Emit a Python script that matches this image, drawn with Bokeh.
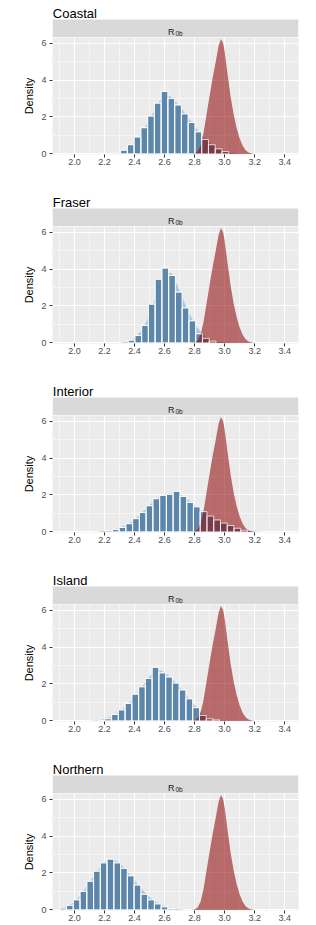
from bokeh.plotting import figure
from bokeh.layouts import column
from bokeh.models import Range1d, FixedTicker, NumeralTickFormatter
from bokeh.core.properties import value
from bokeh.embed import file_html
from bokeh.resources import INLINE

# ---------------- data ----------------
panel_titles = ["Coastal", "Fraser", "Interior", "Island", "Northern"]
strip_main = "R"
strip_sub = "0b"
y_axis_title = "Density"
BINWIDTH = 0.045

x_ticks = [2.0, 2.2, 2.4, 2.6, 2.8, 3.0, 3.2, 3.4]
x_minor = [1.9, 2.1, 2.3, 2.5, 2.7, 2.9, 3.1, 3.3, 3.5]
y_ticks = [0, 2, 4, 6]
y_minor = [1, 3, 5]

# red density curve (same in all panels)
red_x = [2.78, 2.80, 2.82, 2.84, 2.86, 2.88, 2.90, 2.92, 2.94, 2.96, 2.975, 2.99,
         3.00, 3.02, 3.04, 3.06, 3.08, 3.10, 3.12, 3.14, 3.16, 3.18, 3.20]
red_y = [0.0, 0.03, 0.13, 0.45, 1.15, 2.15, 3.15, 4.1, 4.95, 5.85, 6.22, 6.0,
         5.55, 4.3, 3.1, 2.15, 1.4, 0.85, 0.45, 0.2, 0.08, 0.02, 0.0]

coastal_centers = [2.285, 2.33, 2.375, 2.42, 2.465, 2.51, 2.555, 2.60, 2.645, 2.69,
                   2.735, 2.78, 2.825, 2.87, 2.915, 2.96, 3.005]
coastal_heights = [0.04, 0.2, 0.5, 0.92, 1.42, 2.05, 2.75, 3.38, 3.0, 2.65,
                   2.17, 1.7, 1.2, 0.78, 0.5, 0.28, 0.13]
coastal_dens_x = [2.25, 2.30, 2.35, 2.40, 2.45, 2.50, 2.55, 2.60, 2.65, 2.70, 2.75,
                  2.80, 2.85, 2.90, 2.95, 3.00, 3.05, 3.10]
coastal_dens_y = [0.0, 0.05, 0.25, 0.6, 1.15, 1.85, 2.65, 3.3, 3.05, 2.6, 2.05,
                  1.5, 1.0, 0.6, 0.32, 0.15, 0.05, 0.0]

fraser_centers = [2.38, 2.425, 2.47, 2.515, 2.56, 2.605, 2.65, 2.695, 2.74, 2.785,
                  2.83, 2.875, 2.92]
fraser_heights = [0.15, 0.4, 0.95, 2.1, 3.45, 4.05, 3.65, 2.75, 1.9, 1.2,
                  0.5, 0.25, 0.1]
fraser_dens_x = [2.30, 2.35, 2.40, 2.45, 2.50, 2.55, 2.60, 2.65, 2.70, 2.75, 2.80,
                 2.85, 2.90, 2.95, 3.00, 3.05]
fraser_dens_y = [0.0, 0.05, 0.25, 0.7, 1.5, 2.8, 3.9, 3.75, 2.85, 1.85, 1.05,
                 0.5, 0.2, 0.07, 0.02, 0.0]

interior_centers = [2.23, 2.275, 2.32, 2.365, 2.41, 2.455, 2.50, 2.545, 2.59, 2.635,
                    2.68, 2.725, 2.77, 2.815, 2.86, 2.905, 2.95, 2.995, 3.04, 3.085, 3.13]
interior_heights = [0.08, 0.13, 0.24, 0.45, 0.72, 1.05, 1.42, 1.8, 1.98, 2.03,
                    2.2, 1.92, 1.6, 1.36, 1.1, 0.86, 0.65, 0.48, 0.35, 0.2, 0.09]
interior_dens_x = [2.15, 2.20, 2.25, 2.30, 2.35, 2.40, 2.45, 2.50, 2.55, 2.60, 2.65,
                   2.70, 2.75, 2.80, 2.85, 2.90, 2.95, 3.00, 3.05, 3.10, 3.15, 3.20, 3.25]
interior_dens_y = [0.0, 0.05, 0.12, 0.22, 0.4, 0.68, 1.05, 1.45, 1.82, 2.02, 2.1,
                   2.05, 1.8, 1.45, 1.15, 0.88, 0.65, 0.47, 0.32, 0.18, 0.08, 0.02, 0.0]

island_centers = [2.18, 2.225, 2.27, 2.315, 2.36, 2.405, 2.45, 2.495, 2.54, 2.585,
                  2.63, 2.675, 2.72, 2.765, 2.81, 2.855, 2.90, 2.945]
island_heights = [0.03, 0.12, 0.35, 0.6, 0.95, 1.45, 1.85, 2.3, 2.9, 2.6,
                  2.38, 2.05, 1.68, 1.2, 0.72, 0.3, 0.12, 0.06]
island_dens_x = [2.10, 2.15, 2.20, 2.25, 2.30, 2.35, 2.40, 2.45, 2.50, 2.55, 2.60,
                 2.65, 2.70, 2.75, 2.80, 2.85, 2.90, 2.95, 3.00]
island_dens_y = [0.0, 0.03, 0.1, 0.25, 0.5, 0.85, 1.3, 1.85, 2.4, 2.8, 2.65,
                 2.3, 1.85, 1.35, 0.85, 0.42, 0.15, 0.05, 0.0]

northern_centers = [1.88, 1.925, 1.97, 2.015, 2.06, 2.105, 2.15, 2.195, 2.24, 2.285,
                    2.33, 2.375, 2.42, 2.465, 2.51, 2.555, 2.60, 2.645]
northern_heights = [0.03, 0.1, 0.25, 0.55, 1.0, 1.55, 2.1, 2.55, 2.75, 2.55,
                    2.25, 1.85, 1.35, 0.85, 0.55, 0.33, 0.17, 0.08]
northern_dens_x = [1.85, 1.90, 1.95, 2.00, 2.05, 2.10, 2.15, 2.20, 2.25, 2.30, 2.35,
                   2.40, 2.45, 2.50, 2.55, 2.60, 2.65, 2.70, 2.75]
northern_dens_y = [0.02, 0.08, 0.2, 0.45, 0.9, 1.5, 2.1, 2.6, 2.75, 2.55, 2.1,
                   1.6, 1.1, 0.7, 0.4, 0.2, 0.08, 0.02, 0.0]

# ---------------- layout constants ----------------
FONT = "Liberation Sans"
X_START, X_END = 1.854, 3.492
Y_START, Y_END = -0.03, 6.3
FIG_W = 316
LEFT_B = 52
FRAME_W = 246
RIGHT_B = FIG_W - LEFT_B - FRAME_W
PANEL_H = 117
HEAD_H = 37          # title band + strip (pixel units for the header figure)
STRIP_H = 18
PITCH = 189
XPP = (X_END - X_START) / FRAME_W
X_MID = (X_START + X_END) / 2

BAR_COLOR = "#5C87AB"
DENS_COLOR = "#A9C8E0"
RED_COLOR = "#8C0000"


def make_header(title):
    h = figure(width=FIG_W, height=HEAD_H,
               x_range=Range1d(X_START, X_END), y_range=Range1d(0, HEAD_H),
               x_axis_type=None, y_axis_type=None,
               output_backend="svg", toolbar_location=None,
               min_border_left=LEFT_B, min_border_right=RIGHT_B,
               min_border_top=0, min_border_bottom=0)
    h.background_fill_color = "white"
    h.border_fill_color = "white"
    h.outline_line_color = None
    h.grid.visible = False
    h.quad(left=[X_START], right=[X_END], bottom=[0], top=[STRIP_H],
           fill_color="#D9D9D9", line_color=None)
    h.text(x=[X_START + 0.3 * XPP], y=[HEAD_H - 12.5], text=[title],
           text_font=value(FONT), text_font_size="13px", text_color="black",
           text_align="left", text_baseline="alphabetic")
    h.text(x=[X_MID - 1 * XPP], y=[5.3], text=[strip_main],
           text_font=value(FONT), text_font_size="9px", text_color="#1A1A1A",
           text_align="right", text_baseline="alphabetic")
    h.text(x=[X_MID], y=[3.7], text=[strip_sub],
           text_font=value(FONT), text_font_size="6.5px", text_color="#1A1A1A",
           text_align="left", text_baseline="alphabetic")
    return h


def make_panel(centers, heights, dens_x, dens_y, fig_h):
    p = figure(width=FIG_W, height=fig_h,
               x_range=Range1d(X_START, X_END), y_range=Range1d(Y_START, Y_END),
               output_backend="svg", toolbar_location=None,
               min_border_left=LEFT_B, min_border_right=RIGHT_B,
               min_border_top=0, min_border_bottom=fig_h - PANEL_H)
    p.background_fill_color = "#EBEBEB"
    p.border_fill_color = "white"
    p.outline_line_color = None

    p.xaxis.ticker = FixedTicker(ticks=x_ticks, minor_ticks=x_minor)
    p.yaxis.ticker = FixedTicker(ticks=y_ticks, minor_ticks=y_minor)
    p.xaxis.formatter = NumeralTickFormatter(format="0.0")
    p.yaxis.formatter = NumeralTickFormatter(format="0")

    for ax in (p.xaxis, p.yaxis):
        ax.axis_line_color = None
        ax.major_tick_line_color = "#333333"
        ax.major_tick_line_width = 1
        ax.major_tick_out = 3
        ax.major_tick_in = 0
        ax.minor_tick_line_color = None
        ax.major_label_text_font = FONT
        ax.major_label_text_font_size = "9px"
        ax.major_label_text_color = "#4D4D4D"
    p.xaxis.major_label_standoff = 0
    p.yaxis.major_label_standoff = 2
    p.yaxis.axis_label = y_axis_title
    p.yaxis.axis_label_text_font = FONT
    p.yaxis.axis_label_text_font_size = "11px"
    p.yaxis.axis_label_text_font_style = "normal"
    p.yaxis.axis_label_text_color = "black"
    p.yaxis.axis_label_standoff = 3

    for g in (p.xgrid, p.ygrid):
        g.grid_line_color = "white"
        g.grid_line_width = 1.1
        g.minor_grid_line_color = "white"
        g.minor_grid_line_width = 0.5

    # smooth density of the histogram data (light blue)
    p.varea(x=dens_x, y1=[0] * len(dens_x), y2=dens_y, fill_color=DENS_COLOR, fill_alpha=1.0)
    # histogram
    p.vbar(x=centers, width=BINWIDTH, top=heights, bottom=0,
           fill_color=BAR_COLOR, line_color="white", line_width=0.8)
    # red density
    p.varea(x=red_x, y1=[0] * len(red_x), y2=red_y, fill_color=RED_COLOR, fill_alpha=0.55)
    # bar outlines on top
    p.vbar(x=centers, width=BINWIDTH, top=heights, bottom=0,
           fill_color=None, line_color="white", line_width=0.8, line_alpha=0.85)
    return p


panels_data = [
    (coastal_centers, coastal_heights, coastal_dens_x, coastal_dens_y),
    (fraser_centers, fraser_heights, fraser_dens_x, fraser_dens_y),
    (interior_centers, interior_heights, interior_dens_x, interior_dens_y),
    (island_centers, island_heights, island_dens_x, island_dens_y),
    (northern_centers, northern_heights, northern_dens_x, northern_dens_y),
]

figs = []
n = len(panel_titles)
for i, (title, d) in enumerate(zip(panel_titles, panels_data)):
    total = PITCH if i < n - 1 else 925 - (n - 1) * PITCH
    figs.append(make_header(title))
    figs.append(make_panel(d[0], d[1], d[2], d[3], total - HEAD_H))

layout = column(*figs, spacing=0)
open("out.html", "w").write(file_html(layout, INLINE))
